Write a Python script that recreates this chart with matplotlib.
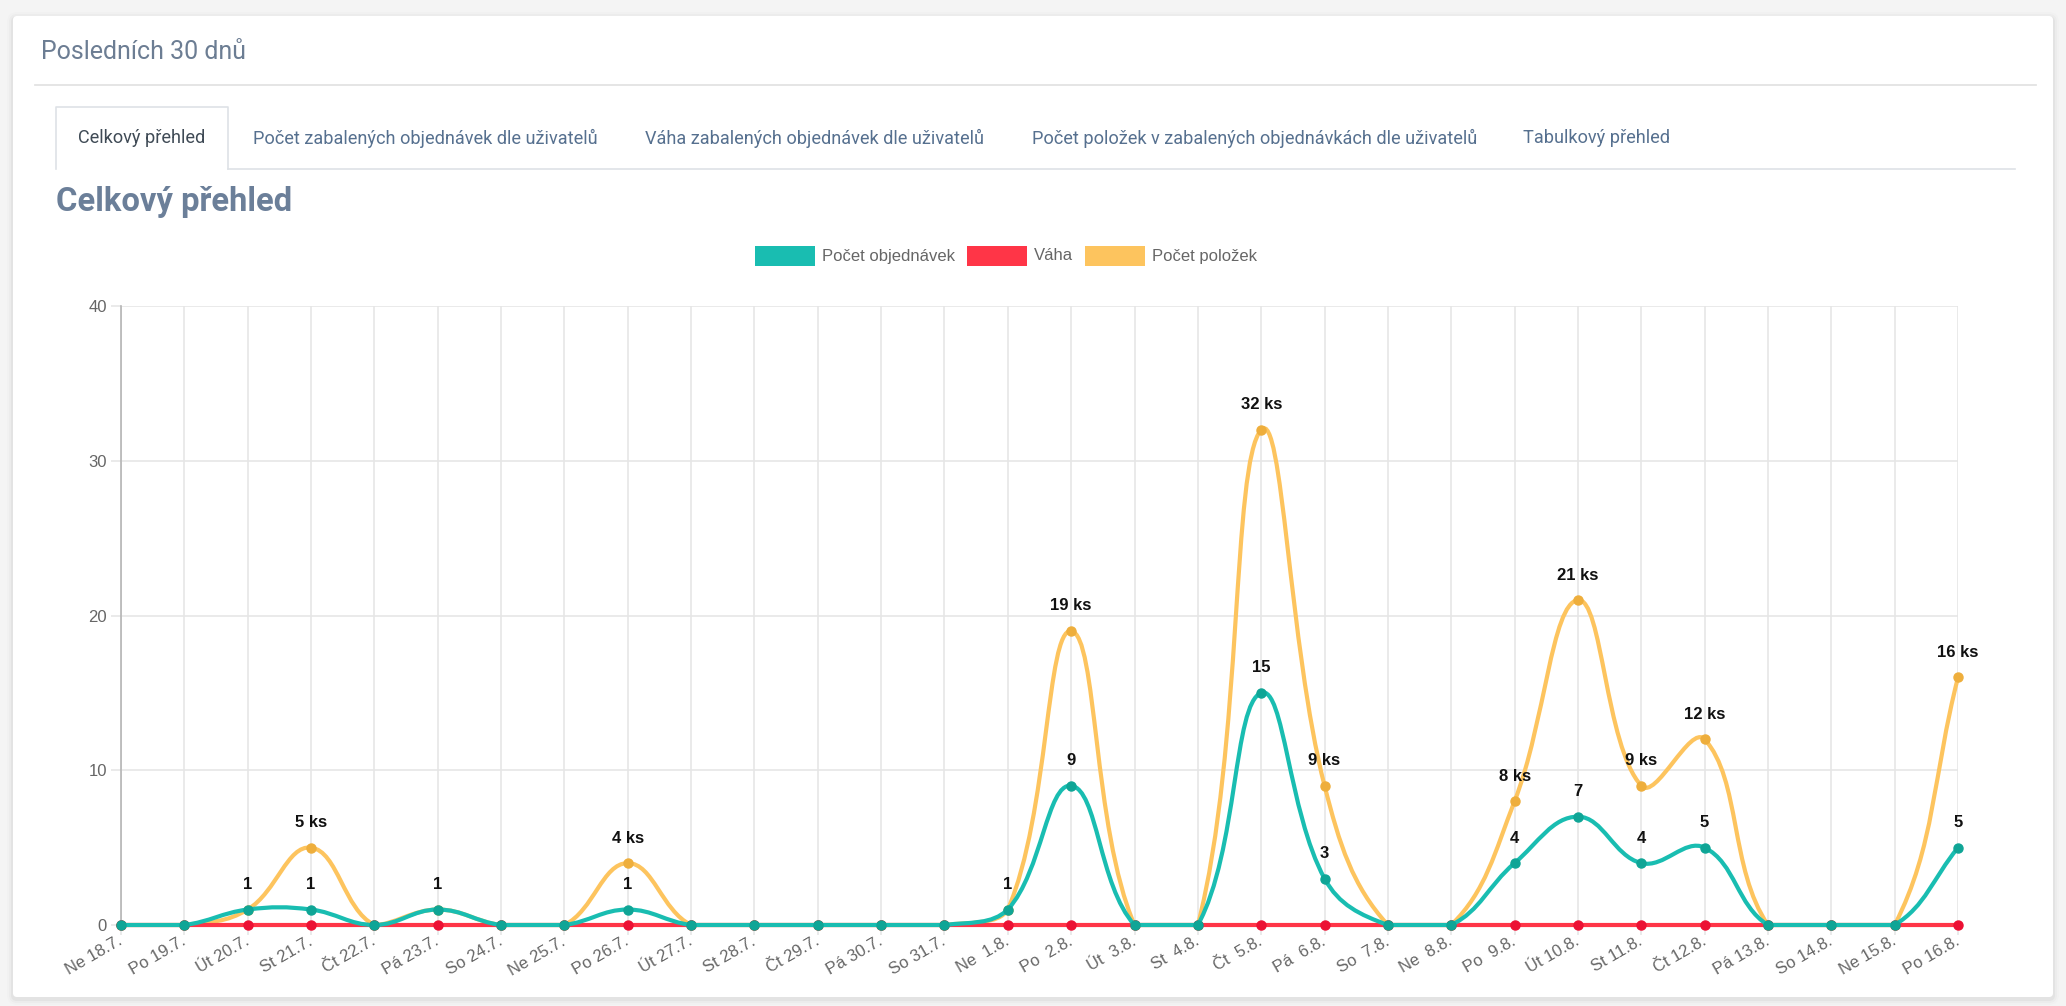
import numpy as np
import matplotlib.pyplot as plt
from matplotlib.path import Path
from matplotlib.patches import PathPatch, Rectangle, FancyBboxPatch
from matplotlib.lines import Line2D
from matplotlib.transforms import Affine2D

# data
days = ["Ne 18.7.", "Po 19.7.", "Út 20.7.", "St 21.7.", "Čt 22.7.", "Pá 23.7.",
        "So 24.7.", "Ne 25.7.", "Po 26.7.", "Út 27.7.", "St 28.7.", "Čt 29.7.",
        "Pá 30.7.", "So 31.7.", "Ne  1.8.", "Po  2.8.", "Út  3.8.", "St  4.8.",
        "Čt  5.8.", "Pá  6.8.", "So  7.8.", "Ne  8.8.", "Po  9.8.", "Út 10.8.",
        "St 11.8.", "Čt 12.8.", "Pá 13.8.", "So 14.8.", "Ne 15.8.", "Po 16.8."]
orders = [0, 0, 1, 1, 0, 1, 0, 0, 1, 0, 0, 0, 0, 0, 1,
          9, 0, 0, 15, 3, 0, 0, 4, 7, 4, 5, 0, 0, 0, 5]
weight = [0, 0, 0, 0, 0, 0, 0, 0, 0, 0, 0, 0, 0, 0, 0,
          0, 0, 0, 0, 0, 0, 0, 0, 0, 0, 0, 0, 0, 0, 0]
items = [0, 0, 1, 5, 0, 1, 0, 0, 4, 0, 0, 0, 0, 0, 1,
         19, 0, 0, 32, 9, 0, 0, 8, 21, 9, 12, 0, 0, 0, 16]
y_ticks = [0, 10, 20, 30, 40]

tabs = ["Celkový přehled", "Počet zabalených objednávek dle uživatelů",
        "Váha zabalených objednávek dle uživatelů",
        "Počet položek v zabalených objednávkách dle uživatelů",
        "Tabulkový přehled"]

TEAL, TEAL_DOT = '#19bdb1', '#0fa596'
RED, RED_DOT = '#ff3547', '#ec1033'
ORANGE, ORANGE_DOT = '#fdc45e', '#eeae3c'
CHART_FONT = ['Liberation Sans', 'DejaVu Sans']
PAGE_FONT = ['Roboto', 'DejaVu Sans']

W, H = 2066, 1006
fig = plt.figure(figsize=(W / 100, H / 100), dpi=100, facecolor='#f4f4f4')
# pixel coordinates, origin top-left
T = Affine2D().scale(1 / W, -1 / H).translate(0, 1) + fig.transFigure

# card with soft shadow
for k, a in [(6, 0.012), (4, 0.02), (2, 0.035)]:
    fig.patches.append(FancyBboxPatch((13 - k, 16 - k + 2), 2040 + 2 * k, 981 + 2 * k,
                                      boxstyle=f"round,pad=0,rounding_size={4 + k}",
                                      fc='black', ec='none', alpha=a,
                                      transform=T, zorder=-10))
fig.patches.append(FancyBboxPatch((13, 16), 2040, 981, boxstyle="round,pad=0,rounding_size=4",
                                  fc='white', ec='none', transform=T, zorder=-9))

fig.text(41, 52, "Posledních 30 dnů", transform=T, fontsize=18, family=PAGE_FONT,
         color='#6c7d93', va='center', ha='left')
fig.add_artist(Line2D([35, 2036], [85, 85], transform=T, color='#e3e3e3', lw=1.3))

# tabs
fig.add_artist(Line2D([228, 2015], [169, 169], transform=T, color='#dee2e6', lw=1.2))
fig.add_artist(Line2D([56, 56, 228, 228], [169, 107, 107, 169], transform=T,
                      color='#dee2e6', lw=1.2))
tab_x = [78, 253, 645, 1032, 1523]
for i, (tx, name) in enumerate(zip(tab_x, tabs)):
    fig.text(tx, 138, name, transform=T, fontsize=13.1, family=PAGE_FONT,
             color='#3f4a55' if i == 0 else '#56708f', va='center', ha='left')

fig.text(56, 202, "Celkový přehled", transform=T, fontsize=23.6, family=PAGE_FONT,
         fontweight='bold', color='#6b7f99', va='center', ha='left')

# legend
legend = [("Počet objednávek", TEAL, 755), ("Váha", RED, 967), ("Počet položek", ORANGE, 1085)]
for name, col, lx in legend:
    fig.patches.append(Rectangle((lx, 246), 60, 20, transform=T, fc=col, ec='none'))
    fig.text(lx + 67, 256, name, transform=T, fontsize=12, family=CHART_FONT,
             color='#666666', va='center', ha='left')

# chart
ax = fig.add_axes([121 / W, 1 - 925 / H, (1958 - 121) / W, (925 - 306) / H])
ax.set_facecolor('none')
x = np.arange(len(days))
ax.set_xlim(0, len(days) - 1)
ax.set_ylim(0, 40)
ax.set_xticks(x)
ax.set_xticklabels(days, family=CHART_FONT)
ax.set_yticks(y_ticks)
ax.set_yticklabels([str(v) for v in y_ticks], family=CHART_FONT)
ax.grid(True, color='#e6e6e6', lw=1.2)
ax.set_axisbelow(True)
for s in ['top', 'right', 'bottom']:
    ax.spines[s].set_visible(False)
ax.spines['left'].set_color('#b5b5b5')
ax.spines['left'].set_linewidth(1.2)
ax.tick_params(axis='both', length=7, width=1.2, color='#e6e6e6',
               labelcolor='#666666', labelsize=12)
ax.tick_params(axis='y', pad=3)
ax.tick_params(axis='x', pad=4)
plt.setp(ax.get_xticklabels(), rotation=30, ha='right', va='center', rotation_mode='anchor')


def smooth_path(xs, ys, t=0.4):
    # chart.js style bezier through the points, computed in pixel space
    pts = ax.transData.transform(np.column_stack([xs, ys]).astype(float))
    n = len(pts)
    cp_prev = pts.copy()
    cp_next = pts.copy()
    for i in range(n):
        prev = pts[max(i - 1, 0)]
        cur = pts[i]
        nxt = pts[min(i + 1, n - 1)]
        d01 = np.hypot(*(cur - prev))
        d12 = np.hypot(*(nxt - cur))
        tot = d01 + d12
        s01 = d01 / tot if tot else 0
        s12 = d12 / tot if tot else 0
        cp_prev[i] = cur - t * s01 * (nxt - prev)
        cp_next[i] = cur + t * s12 * (nxt - prev)
    (x0, y0), (x1, y1) = ax.transData.transform([[0, 0], [n - 1, 40]])
    for cp in (cp_prev, cp_next):
        cp[:, 0] = np.clip(cp[:, 0], min(x0, x1), max(x0, x1))
        cp[:, 1] = np.clip(cp[:, 1], min(y0, y1), max(y0, y1))
    verts = [pts[0]]
    codes = [Path.MOVETO]
    for i in range(n - 1):
        verts += [cp_next[i], cp_prev[i + 1], pts[i + 1]]
        codes += [Path.CURVE4] * 3
    verts = ax.transData.inverted().transform(np.array(verts))
    return Path(verts, codes)


series = [(items, ORANGE, ORANGE_DOT, 2), (weight, RED, RED_DOT, 4), (orders, TEAL, TEAL_DOT, 6)]
for vals, col, dot, z in series:
    ax.add_patch(PathPatch(smooth_path(x, vals), fill=False, ec=col, lw=3,
                           zorder=z, clip_on=False))
    ax.plot(x, vals, ls='none', marker='o', ms=6.5, mfc=dot, mec=dot,
            zorder=z + 0.5, clip_on=False)

label_kw = dict(textcoords='offset points', ha='center', va='center', fontsize=12,
                fontweight='bold', color='#111111', family=CHART_FONT, zorder=10)
for i in x:
    if orders[i] > 0:
        ax.annotate(str(orders[i]), (i, orders[i]), xytext=(0, 18), **label_kw)
    if items[i] > 0 and items[i] != orders[i]:
        ax.annotate(f"{items[i]} ks", (i, items[i]), xytext=(0, 18), **label_kw)

fig.savefig("out.png", dpi=100, facecolor=fig.get_facecolor())
